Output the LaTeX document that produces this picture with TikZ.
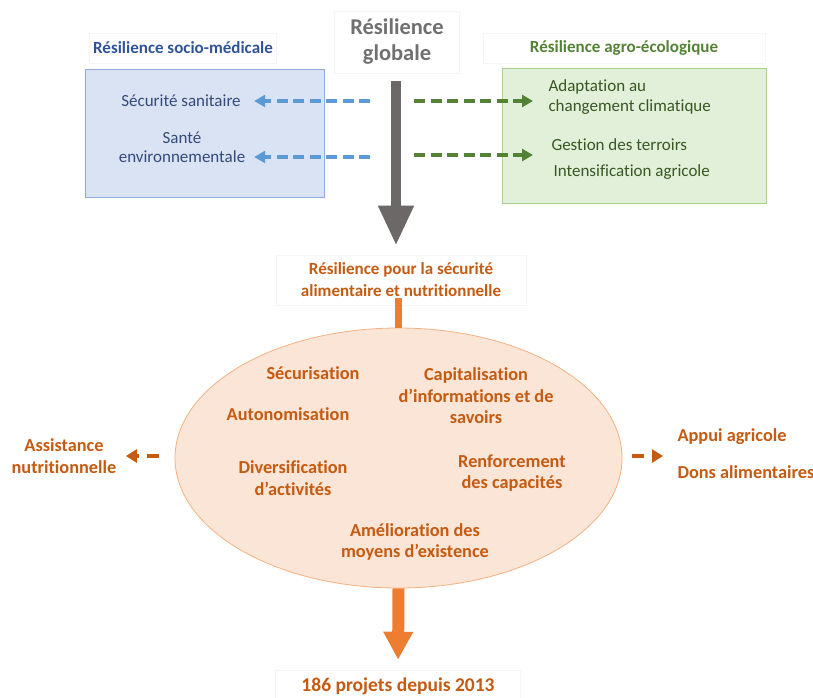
\documentclass[tikz,border=0pt]{standalone}
\usepackage{fontspec}
\setmainfont{Carlito}[Ligatures={NoCommon}]
\usetikzlibrary{shapes.geometric,arrows.meta}
\definecolor{dblue}{RGB}{47,84,150}
\definecolor{txblue}{RGB}{52,74,122}
\definecolor{lblue}{RGB}{91,155,213}
\definecolor{boxblue}{RGB}{218,227,243}
\definecolor{bordblue}{RGB}{143,170,220}
\definecolor{dgreen}{RGB}{84,130,53}
\definecolor{txgreen}{RGB}{56,87,35}
\definecolor{boxgreen}{RGB}{226,240,217}
\definecolor{bordgreen}{RGB}{169,209,142}
\definecolor{orng}{RGB}{197,90,17}
\definecolor{orarrow}{RGB}{237,125,49}
\definecolor{peach}{RGB}{251,229,214}
\definecolor{peachb}{RGB}{244,177,131}
\definecolor{gtext}{RGB}{112,112,112}
\definecolor{garrow}{RGB}{108,104,104}
\tikzset{
  faint/.style={draw=black!4, line width=0.6pt},
  hdr/.style={font=\fontsize{17}{20}\selectfont\bfseries},
  btxt/.style={font=\fontsize{17}{19}\selectfont, text=txblue, align=center},
  gtxt/.style={font=\fontsize{17}{20}\selectfont, text=txgreen, align=left, anchor=west},
  otxt/.style={font=\fontsize{18.3}{21.5}\selectfont\bfseries, text=orng, align=center},
  bdash/.style={draw=lblue, line width=4pt, dash pattern=on 11pt off 5.5pt, -{Triangle[width=12pt,length=11pt]}},
  gdash/.style={draw=dgreen, line width=4pt, dash pattern=on 11pt off 5.5pt, -{Triangle[width=12pt,length=11pt]}},
  odash/.style={draw=orng, line width=4.5pt, dash pattern=on 12pt off 8pt, -{Triangle[width=13pt,length=11pt]}},
}
\begin{document}
\begin{tikzpicture}[x=1pt,y=-1pt]
\useasboundingbox (0,0) rectangle (813,697);
% headers
\node[faint, minimum width=125pt, minimum height=62pt, inner sep=0pt, font=\fontsize{22.5}{26}\selectfont\bfseries, text=gtext, align=center] (glob) at (397,42) {Résilience\\globale};
\node[faint, minimum width=182pt, minimum height=30pt, hdr, text=dblue] (hsm) at (183,48) {Résilience socio-médicale};
\node[faint, minimum width=282pt, minimum height=30pt, hdr, text=dgreen] (hae) at (624,48) {Résilience agro-écologique};
% boxes
\node[draw=bordblue, fill=boxblue, line width=0.8pt, minimum width=239pt, minimum height=128pt] (bbox) at (204.5,133) {};
\node[draw=bordgreen, fill=boxgreen, line width=0.8pt, minimum width=264pt, minimum height=135pt] (gbox) at (634,135.5) {};
% blue texts
\node[btxt] (ss) at (181,101) {Sécurité sanitaire};
\node[btxt] (se) at (182,147.5) {Santé\\environnementale};
% green texts
\node[gtxt] (ad) at (545,97) {Adaptation au\\changement climatique};
\node[gtxt] (gt) at (548,145) {Gestion des terroirs};
\node[gtxt] (it) at (550,172) {Intensification agricole};
% central arrow
\node[faint, minimum width=250pt, minimum height=50pt, otxt, font=\fontsize{17}{22}\selectfont\bfseries] (rsa) at (401,280) {Résilience pour la sécurité\\alimentaire et nutritionnelle};
\draw[draw=garrow, line width=10pt, shorten <=8pt, shorten >=9pt, -{Triangle[width=33pt,length=40pt]}] ([xshift=-1pt]glob.south) -- ([xshift=-1pt]glob.south |- rsa.north);
% dashed arrows
\coordinate (b1) at (370,101);
\coordinate (b2) at (370,157);
\coordinate (g1) at (414,101);
\coordinate (g2) at (414,155);
\draw[bdash] (b1) -- ([xshift=10pt]ss.east);
\draw[bdash] (b2) -- ([xshift=10pt]b2 -| ss.east);
\draw[gdash] (g1) -- ([xshift=-12pt]g1 -| ad.west);
\draw[gdash] (g2) -- ([xshift=-12pt]g2 -| ad.west);
% ellipse
\node[ellipse, draw=peachb, fill=peach, line width=0.8pt, minimum width=447pt, minimum height=260pt] (ell) at (398.5,458) {};
\draw[draw=orarrow, line width=7pt] ([yshift=7pt]rsa.south -| ell.north) -- (ell.north);
\node[otxt] (sec) at (313,373) {Sécurisation};
\node[otxt] (cap) at (476,396) {Capitalisation\\d’informations et de\\savoirs};
\node[otxt] (aut) at (288,414) {Autonomisation};
\node[otxt] (div) at (293,478) {Diversification\\d’activités};
\node[otxt] (ren) at (512,473) {Renforcement\\des capacités};
\node[otxt] (ame) at (415,542) {Amélioration des\\moyens d’existence};
% side texts
\node[otxt] (ass) at (64,456) {Assistance\\nutritionnelle};
\node[otxt, anchor=west] (app) at (674,437) {Appui agricole};
\node[otxt, anchor=west] (don) at (674,472) {Dons alimentaires};
\coordinate (la) at (159,456);
\coordinate (ra) at (632,456);
\draw[odash] (la) -- ([xshift=6pt]ass.east |- la);
\draw[odash] (ra) -- ([xshift=-11pt]app.west |- ra);
% bottom
\node[faint, minimum width=245pt, minimum height=32pt, font=\fontsize{19.5}{22}\selectfont\bfseries, text=orng] (proj) at (398,686) {186 projets depuis 2013};
\draw[draw=orarrow, line width=12pt, shorten >=10pt, -{Triangle[width=28pt,length=28pt]}] (ell.south) -- (proj.north);
\end{tikzpicture}
\end{document}
